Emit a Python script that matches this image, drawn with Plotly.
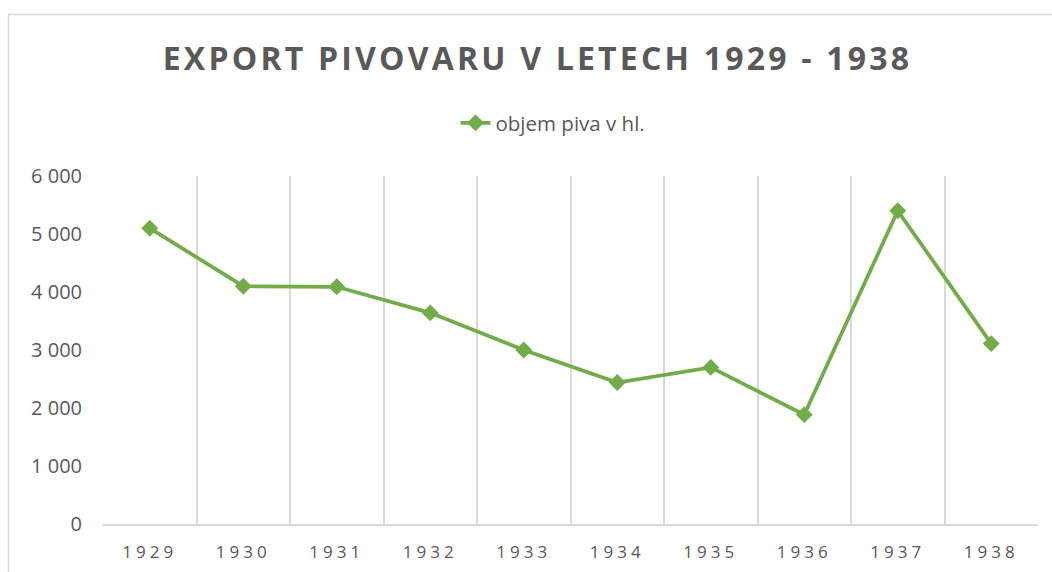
import plotly.graph_objects as go

years = ["1929", "1930", "1931", "1932", "1933", "1934", "1935", "1936", "1937", "1938"]
objem = [5100, 4100, 4090, 3640, 3000, 2440, 2700, 1885, 5400, 3110]
y_ticks = [0, 1000, 2000, 3000, 4000, 5000, 6000]
series_name = "objem piva v hl."
title_text = "EXPORT PIVOVARU V LETECH 1929 - 1938"

W, H = 1052, 572
L, R, T, B = 103, 14, 176, 48
pw, ph = W - L - R, H - T - B

def px_x(x):
    return (x - L) / pw

def px_y(y):
    return (H - B - y) / ph

GREEN = "#70ad47"
TEXT = "#595959"
GRID = "#d9d9d9"
FONT = "Open Sans"

fig = go.Figure()
fig.add_trace(go.Scatter(
    x=years, y=objem, name=series_name, mode="lines+markers",
    line=dict(color=GREEN, width=3.75),
    marker=dict(symbol="diamond", size=13, color=GREEN),
    showlegend=True,
))

fig.update_layout(
    width=W, height=H,
    margin=dict(l=L, r=R, t=T, b=B, autoexpand=False),
    paper_bgcolor="white", plot_bgcolor="white",
    separators=", ",
    title=dict(
        text='<span style="letter-spacing:3.2px">' + title_text + '</span>',
        font=dict(family=FONT, size=32, color=TEXT, weight=700),
        x=537.5 / W, xref="container", xanchor="center",
        y=1 - 59 / H, yref="container", yanchor="middle",
    ),
    legend=dict(
        orientation="h", x=px_x(553), xanchor="center",
        y=px_y(123), yanchor="middle",
        font=dict(family=FONT, size=20.5, color=TEXT),
        bgcolor="rgba(0,0,0,0)",
    ),
    xaxis=dict(
        type="category", range=[-0.5, 9.5], automargin=False,
        tickmode="array", tickvals=years,
        ticktext=['<span style="letter-spacing:4px">' + y + '</span>' for y in years],
        tickson="boundaries", ticks="", showgrid=True, gridcolor=GRID, gridwidth=1.5,
        showline=True, linecolor=GRID, linewidth=1.5,
        tickfont=dict(family=FONT, size=17, color=TEXT),
        ticklabelstandoff=12, zeroline=False, fixedrange=True,
    ),
    yaxis=dict(
        range=[0, 6000], tickmode="array", tickvals=y_ticks, tickformat=",d",
        automargin=False,
        showgrid=False, zeroline=False, showline=False, ticks="",
        tickfont=dict(family=FONT, size=20, color=TEXT),
        ticklabelstandoff=20, fixedrange=True,
    ),
)

fig.add_shape(
    type="rect", xref="paper", yref="paper",
    x0=px_x(8.5), x1=px_x(W + 20), y0=px_y(14.5), y1=px_y(H + 20),
    line=dict(color=GRID, width=1.5), fillcolor="rgba(0,0,0,0)", layer="below",
)

fig.write_html(
    "out.html",
    config={"displayModeBar": False},
    post_script="document.body.style.margin='0';document.body.style.overflow='hidden';",
)
